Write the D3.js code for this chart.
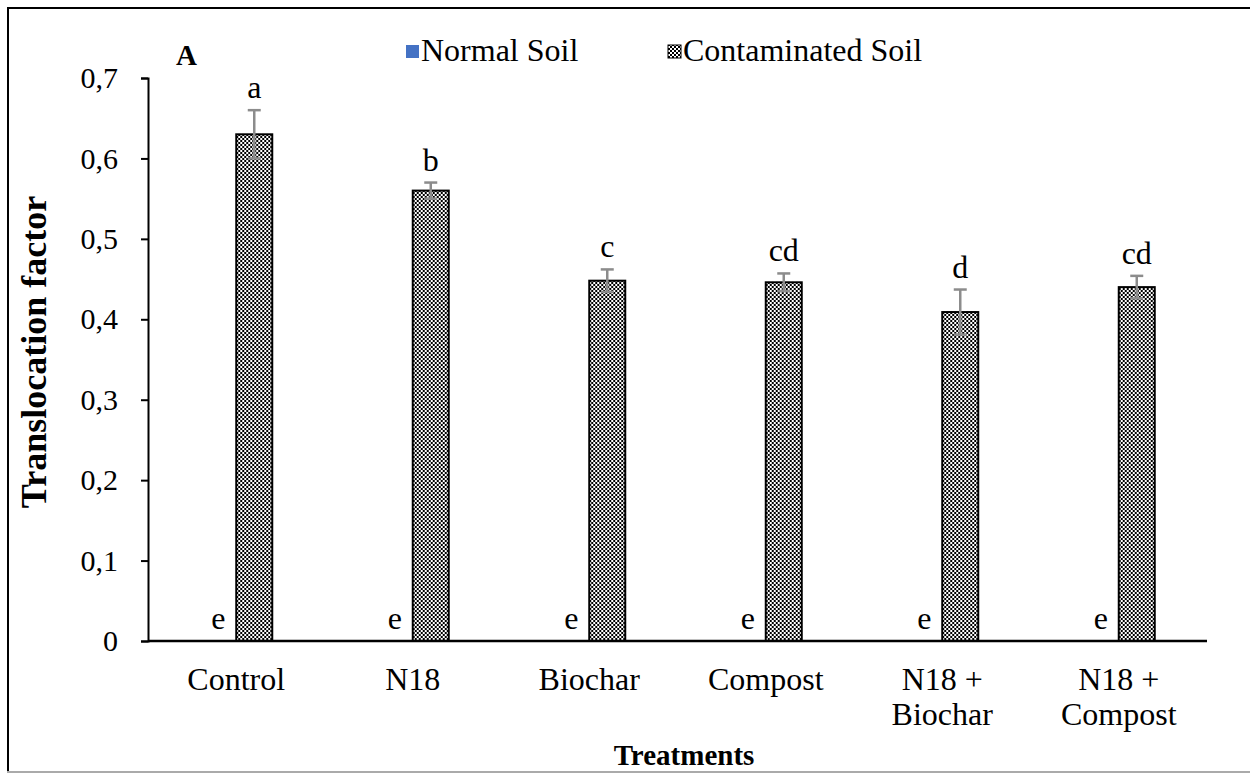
<!DOCTYPE html>
<html>
<head>
    <script src="https://d3js.org/d3.v7.min.js"></script>
    <style>
        body { margin: 0; padding: 0; background: #fff; overflow: hidden; }
    </style>
</head>
<body>
    <div id="chart"></div>
    <script>
        // data
        const categories = ['Control', 'N18', 'Biochar', 'Compost', 'N18 +|Biochar', 'N18 +|Compost'];
        const series = ['Normal Soil', 'Contaminated Soil'];
        const normalValues = [0, 0, 0, 0, 0, 0];
        const normalErrors = [0, 0, 0, 0, 0, 0];
        const normalLetters = ['e', 'e', 'e', 'e', 'e', 'e'];
        const contamValues = [0.63, 0.56, 0.448, 0.446, 0.409, 0.44];
        const contamErrors = [0.03, 0.01, 0.014, 0.011, 0.028, 0.014];
        const contamLetters = ['a', 'b', 'c', 'cd', 'd', 'cd'];
        const yTicks = [0, 0.1, 0.2, 0.3, 0.4, 0.5, 0.6, 0.7];

        const width = 1250, height = 775;
        const plotLeft = 148, plotRight = 1207, plotTop = 78, plotBottom = 641;
        const serif = '"Liberation Serif", "Times New Roman", serif';

        const svg = d3.select('#chart').append('svg')
            .attr('width', width)
            .attr('height', height)
            .style('font-family', serif);

        // checker pattern for contaminated bars
        const pat = svg.append('defs').append('pattern')
            .attr('id', 'checker')
            .attr('patternUnits', 'userSpaceOnUse')
            .attr('width', 4).attr('height', 4);
        pat.append('rect').attr('width', 4).attr('height', 4).attr('fill', '#fff');
        pat.append('rect').attr('width', 2).attr('height', 2).attr('fill', '#000');
        pat.append('rect').attr('x', 2).attr('y', 2).attr('width', 2).attr('height', 2).attr('fill', '#000');

        // outer frame
        svg.append('line').attr('x1', 7).attr('x2', width).attr('y1', 8).attr('y2', 8)
            .attr('stroke', '#000').attr('stroke-width', 2);
        svg.append('line').attr('x1', 8).attr('x2', 8).attr('y1', 7).attr('y2', 772)
            .attr('stroke', '#000').attr('stroke-width', 2);
        svg.append('line').attr('x1', 7).attr('x2', width).attr('y1', 772).attr('y2', 772)
            .attr('stroke', '#aaa').attr('stroke-width', 2);

        const y = d3.scaleLinear().domain([0, 0.7]).range([plotBottom, plotTop]);
        const x0 = d3.scaleBand().domain(categories).range([plotLeft, plotRight])
            .paddingInner(0.592).paddingOuter(0.296);
        const x1 = d3.scaleBand().domain(series).range([0, x0.bandwidth()]);

        // y axis
        const yAxis = svg.append('g')
            .attr('transform', `translate(${plotLeft},0)`)
            .call(d3.axisLeft(y).tickValues(yTicks).tickSize(7).tickPadding(23)
                .tickFormat(d => d === 0 ? '0' : d3.format('.1f')(d).replace('.', ',')));
        yAxis.attr('font-family', null).attr('font-size', null);
        yAxis.select('.domain').attr('stroke', '#000').attr('stroke-width', 2);
        yAxis.selectAll('.tick line').attr('stroke', '#000').attr('stroke-width', 2);
        yAxis.selectAll('.tick text')
            .style('font-family', serif).style('font-size', '30px')
            .attr('fill', '#000');

        // bars
        const rows = categories.map((c, i) => ({
            cat: c,
            vals: [
                { s: series[0], v: normalValues[i], e: normalErrors[i], l: normalLetters[i] },
                { s: series[1], v: contamValues[i], e: contamErrors[i], l: contamLetters[i] }
            ]
        }));

        const grp = svg.append('g').selectAll('g').data(rows).join('g')
            .attr('transform', d => `translate(${x0(d.cat)},0)`);

        grp.selectAll('rect').data(d => d.vals.filter(v => v.v > 0)).join('rect')
            .attr('x', d => x1(d.s))
            .attr('y', d => y(d.v))
            .attr('width', x1.bandwidth())
            .attr('height', d => y(0) - y(d.v))
            .attr('fill', 'url(#checker)')
            .attr('stroke', '#000')
            .attr('stroke-width', 2);

        // error bars
        const eb = grp.selectAll('g.err').data(d => d.vals.filter(v => v.e > 0)).join('g')
            .attr('class', 'err')
            .attr('stroke', '#8c8c8c').attr('stroke-width', 2.5);
        eb.append('line')
            .attr('x1', d => x1(d.s) + x1.bandwidth() / 2)
            .attr('x2', d => x1(d.s) + x1.bandwidth() / 2)
            .attr('y1', d => y(d.v + d.e)).attr('y2', d => y(d.v - d.e));
        [1, -1].forEach(k => {
            eb.append('line')
                .attr('x1', d => x1(d.s) + x1.bandwidth() / 2 - 6.5)
                .attr('x2', d => x1(d.s) + x1.bandwidth() / 2 + 6.5)
                .attr('y1', d => y(d.v + k * d.e)).attr('y2', d => y(d.v + k * d.e));
        });

        // letters
        grp.selectAll('text.lab').data(d => d.vals).join('text')
            .attr('class', 'lab')
            .attr('x', d => x1(d.s) + x1.bandwidth() / 2)
            .attr('y', d => y(d.v + d.e) - 12)
            .attr('text-anchor', 'middle')
            .style('font-size', '32px')
            .text(d => d.l);

        // x axis line
        svg.append('line').attr('x1', plotLeft).attr('x2', plotRight)
            .attr('y1', y(0)).attr('y2', y(0))
            .attr('stroke', '#000').attr('stroke-width', 2.5);

        // category labels
        const cl = svg.append('g').selectAll('text').data(categories).join('text')
            .attr('x', d => x0(d) + x0.bandwidth() / 2)
            .attr('y', 690)
            .attr('text-anchor', 'middle')
            .style('font-size', '32px');
        cl.selectAll('tspan').data(d => d.split('|')).join('tspan')
            .attr('x', function() { return d3.select(this.parentNode).attr('x'); })
            .attr('dy', (d, i) => i === 0 ? 0 : 35)
            .text(d => d);

        // axis titles
        svg.append('text')
            .attr('x', 684).attr('y', 765)
            .attr('text-anchor', 'middle')
            .style('font-size', '29px').style('font-weight', 'bold')
            .text('Treatments');
        svg.append('text')
            .attr('transform', 'translate(46,352) rotate(-90)')
            .attr('text-anchor', 'middle')
            .style('font-size', '36px').style('font-weight', 'bold')
            .text('Translocation factor');

        // panel letter
        svg.append('text')
            .attr('x', 176).attr('y', 65)
            .style('font-size', '29px').style('font-weight', 'bold')
            .text('A');

        // legend
        const legend = svg.append('g');
        const legendX = [406, 668];
        legend.selectAll('rect').data(series).join('rect')
            .attr('x', (d, i) => legendX[i]).attr('y', 45)
            .attr('width', 13).attr('height', 13)
            .attr('fill', (d, i) => i === 0 ? '#4472c4' : 'url(#checker)')
            .attr('stroke', (d, i) => i === 0 ? 'none' : '#000')
            .attr('stroke-width', 1);
        legend.selectAll('text').data(series).join('text')
            .attr('x', (d, i) => legendX[i] + 15).attr('y', 61)
            .style('font-size', '32px')
            .text(d => d);
    </script>
</body>
</html>
